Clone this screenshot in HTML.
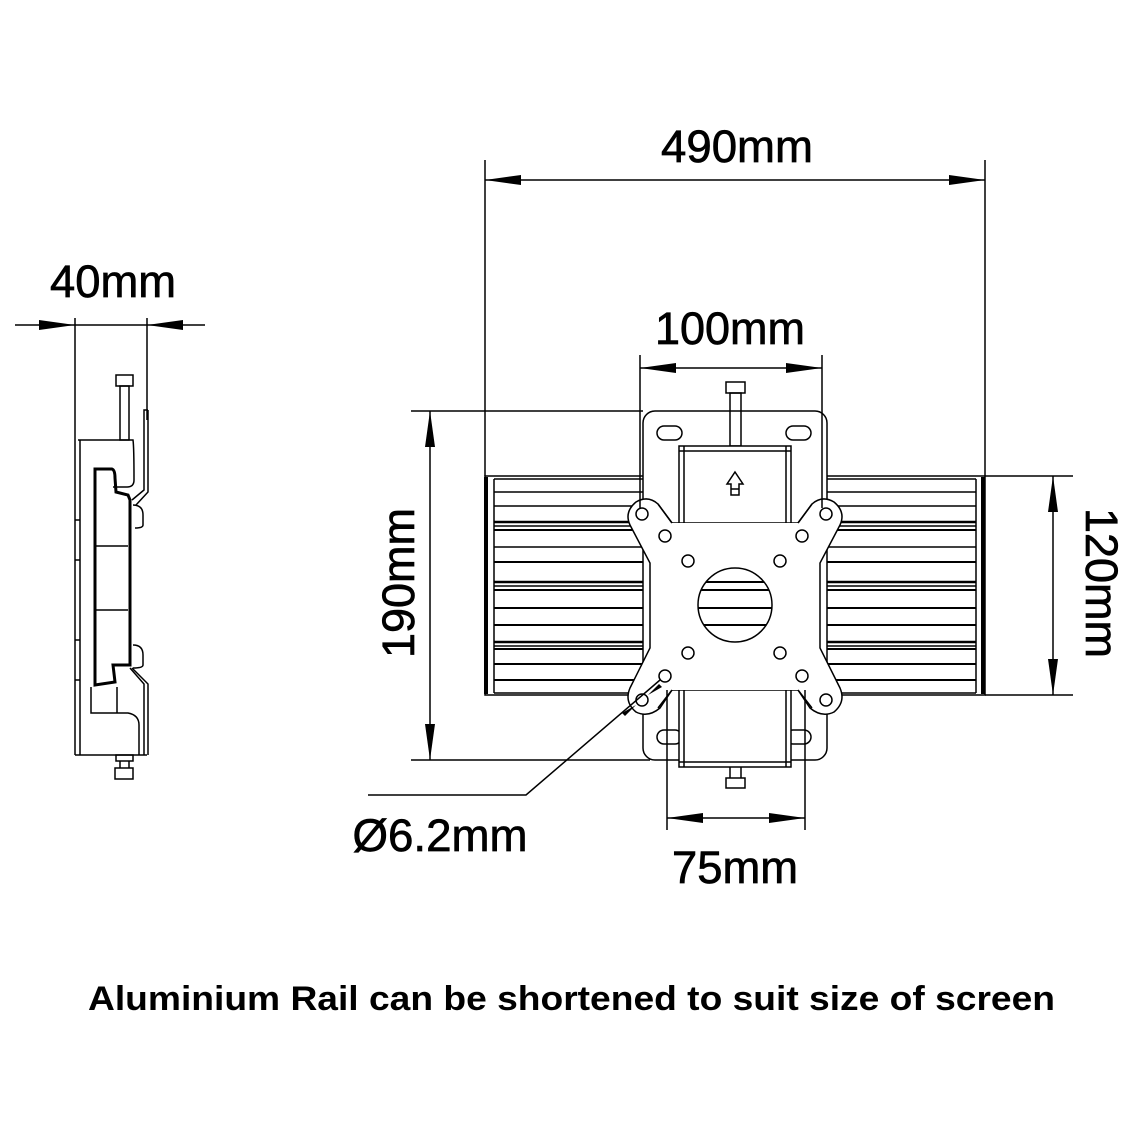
<!DOCTYPE html>
<html><head><meta charset="utf-8"><style>html,body{margin:0;padding:0;background:#fff}svg{display:block}</style></head>
<body>
<svg width="1138" height="1138" viewBox="0 0 1138 1138" xmlns="http://www.w3.org/2000/svg">
<g fill="none" stroke="#000" stroke-width="1.5">
<!-- ===== side view ===== -->
<line x1="75" y1="318" x2="75" y2="755"/>
<line x1="147" y1="318" x2="147" y2="420"/>
<rect x="116" y="375" width="17" height="11"/>
<rect x="120" y="386" width="9" height="54"/>
<path d="M78,440 L133,440 Q134,447 134,480 Q134,487 127,487 L113,487"/>
<path d="M148,410 L144,410 L144,490 L132,500"/>
<path d="M148,410 L148,492 L136,505"/>
<path d="M133,505 Q143,505 143,515 L143,525 Q143,528 135,528"/>
<path d="M95,469 L112,469 Q115,470 115,478 L116,492 L128,495 L130,500 L130,665 L113,665 L115,682 L95,685 Z" stroke-width="3"/>
<line x1="95" y1="546" x2="128" y2="546"/>
<line x1="95" y1="610" x2="128" y2="610"/>
<line x1="80" y1="440" x2="80" y2="755"/>
<line x1="75" y1="755" x2="147" y2="755"/>
<path d="M133,645 Q143,645 143,655 L143,665 Q143,668 133,668"/>
<path d="M132,668 L148,684 L148,755"/>
<path d="M130,668 L144,684 L144,755"/>
<path d="M91,687 L91,713 L128,713 Q139,715 139,725 L139,755"/>
<line x1="117" y1="687" x2="117" y2="713"/>
<rect x="116" y="755" width="17" height="6"/>
<rect x="115" y="768" width="18" height="11"/>
<line x1="120" y1="761" x2="120" y2="768"/><line x1="129" y1="761" x2="129" y2="768"/>
<line x1="75" y1="520" x2="80" y2="520"/><line x1="75" y1="560" x2="80" y2="560"/><line x1="75" y1="640" x2="80" y2="640"/><line x1="75" y1="680" x2="80" y2="680"/>

<!-- 40mm dim -->
<line x1="15" y1="325" x2="205" y2="325"/>

<!-- ===== rail ===== -->
<rect x="485" y="476" width="500" height="219"/>
<line x1="486" y1="477" x2="486" y2="694" stroke-width="4"/>
<line x1="983" y1="477" x2="983" y2="694" stroke-width="4"/>
<line x1="494" y1="479" x2="494" y2="693"/>
<line x1="976" y1="479" x2="976" y2="693"/>
<g>
<line x1="494" y1="479" x2="976" y2="479"/>
<line x1="494" y1="492" x2="976" y2="492"/>
<line x1="494" y1="506" x2="976" y2="506"/>
<line x1="494" y1="522" x2="976" y2="522" stroke-width="2.5"/>
<line x1="494" y1="526" x2="976" y2="526"/>
<line x1="494" y1="530" x2="976" y2="530" stroke-width="2"/>
<line x1="494" y1="547" x2="976" y2="547"/>
<line x1="494" y1="562" x2="976" y2="562" stroke-width="2"/>
<line x1="494" y1="582" x2="976" y2="582" stroke-width="2.5"/>
<line x1="494" y1="586" x2="976" y2="586"/>
<line x1="494" y1="590" x2="976" y2="590" stroke-width="2"/>
<line x1="494" y1="608" x2="976" y2="608" stroke-width="2"/>
<line x1="494" y1="625" x2="976" y2="625" stroke-width="2"/>
<line x1="494" y1="642" x2="976" y2="642" stroke-width="2.5"/>
<line x1="494" y1="646" x2="976" y2="646"/>
<line x1="494" y1="649" x2="976" y2="649" stroke-width="2"/>
<line x1="494" y1="664" x2="976" y2="664" stroke-width="2"/>
<line x1="494" y1="680" x2="976" y2="680" stroke-width="2"/>
<line x1="494" y1="693" x2="976" y2="693"/>
</g>

<!-- ===== bracket back plate ===== -->
<rect x="643" y="411" width="184" height="349" rx="12" fill="#fff"/>
<rect x="657" y="426" width="25" height="14" rx="7"/>
<rect x="786" y="426" width="25" height="14" rx="7"/>
<rect x="657" y="730" width="25" height="14" rx="7"/>
<rect x="786" y="730" width="25" height="14" rx="7"/>
<rect x="726" y="382" width="19" height="11"/>
<rect x="730" y="393" width="11" height="53"/>
<rect x="679" y="446" width="112" height="321" fill="#fff"/>
<line x1="684" y1="446" x2="684" y2="767"/><line x1="786" y1="446" x2="786" y2="767"/>
<line x1="679" y1="451" x2="791" y2="451"/><line x1="679" y1="762" x2="791" y2="762"/>
<rect x="726" y="778" width="19" height="10"/>
<line x1="730" y1="767" x2="730" y2="778"/><line x1="741" y1="767" x2="741" y2="778"/>
<path d="M735,472 L743,484 L739,484 L739,495 L731,495 L731,484 L727,484 Z"/>
<line x1="731" y1="489" x2="739" y2="489"/>

<!-- ===== VESA plate ===== -->
<path d="M672,523 L658,504 Q648,495 636,502 Q624,512 630,525 L650,563 L650,648 L630,688 Q624,702 636,712 Q648,718 660,708 L672,690 L798,690 L810,708 Q822,718 834,712 Q846,702 840,688 L820,648 L820,563 L840,525 Q846,512 834,502 Q822,495 812,504 L798,523 Z" fill="#fff"/>
<rect x="679" y="523" width="112" height="167" fill="#fff" stroke="none"/>
<rect x="656" y="523" width="158" height="167" fill="#fff" stroke="none"/>
<path d="M658,504 L672,523 M798,523 L812,504 M672,690 L658,708 M798,690 L812,708"/>
<circle cx="642" cy="514" r="6"/><circle cx="826" cy="514" r="6"/>
<circle cx="642" cy="700" r="6"/><circle cx="826" cy="700" r="6"/>
<circle cx="665" cy="536" r="6"/><circle cx="802" cy="536" r="6"/>
<circle cx="688" cy="561" r="6"/><circle cx="780" cy="561" r="6"/>
<circle cx="688" cy="653" r="6"/><circle cx="780" cy="653" r="6"/>
<circle cx="665" cy="676" r="6"/><circle cx="802" cy="676" r="6"/>
<circle cx="735" cy="605" r="37"/>
<clipPath id="c"><circle cx="735" cy="605" r="37"/></clipPath>
<g clip-path="url(#c)" stroke-width="2">
<line x1="690" y1="582" x2="780" y2="582"/><line x1="690" y1="590" x2="780" y2="590"/>
<line x1="690" y1="608" x2="780" y2="608"/><line x1="690" y1="625" x2="780" y2="625"/>
</g>

<!-- ===== dimensions ===== -->
<line x1="485" y1="160" x2="485" y2="476"/>
<line x1="985" y1="160" x2="985" y2="476"/>
<line x1="485" y1="180" x2="985" y2="180"/>
<line x1="640" y1="355" x2="640" y2="508"/>
<line x1="822" y1="355" x2="822" y2="508"/>
<line x1="640" y1="368" x2="822" y2="368"/>
<line x1="411" y1="411" x2="643" y2="411"/>
<line x1="411" y1="760" x2="650" y2="760"/>
<line x1="430" y1="411" x2="430" y2="760"/>
<line x1="985" y1="476" x2="1073" y2="476"/>
<line x1="985" y1="695" x2="1073" y2="695"/>
<line x1="1053" y1="476" x2="1053" y2="695"/>
<line x1="667" y1="690" x2="667" y2="830"/>
<line x1="805" y1="690" x2="805" y2="830"/>
<line x1="667" y1="818" x2="805" y2="818"/>
<polyline points="368,795 526,795 660,680"/>
</g>
<g stroke="none" fill="#000">
<path d="M485,180 l36,-5 v10 z"/><path d="M985,180 l-36,-5 v10 z"/>
<path d="M640,368 l36,-5 v10 z"/><path d="M822,368 l-36,-5 v10 z"/>
<path d="M430,411 l-5,36 h10 z"/><path d="M430,760 l-5,-36 h10 z"/>
<path d="M1053,476 l-5,36 h10 z"/><path d="M1053,695 l-5,-36 h10 z"/>
<path d="M667,818 l36,-5 v10 z"/><path d="M805,818 l-36,-5 v10 z"/>
<path d="M75,325 l-36,-5 v10 z"/><path d="M147,325 l36,-5 v10 z"/>
<path d="M636,705 l-14,8 l3,3 z"/><path d="M648,695 l14,-8 l-3,-3 z"/>
</g>
<g font-family="Liberation Sans, Arial, sans-serif" fill="#000" stroke="#000" stroke-width="0.7" font-size="45">
<text x="737" y="162" text-anchor="middle" textLength="152" lengthAdjust="spacingAndGlyphs">490mm</text>
<text x="730" y="344" text-anchor="middle" textLength="150" lengthAdjust="spacingAndGlyphs">100mm</text>
<text x="113" y="297" text-anchor="middle" textLength="126" lengthAdjust="spacingAndGlyphs">40mm</text>
<text x="735" y="883" text-anchor="middle" textLength="126" lengthAdjust="spacingAndGlyphs">75mm</text>
<text x="440" y="851" text-anchor="middle" textLength="175" lengthAdjust="spacingAndGlyphs">Ø6.2mm</text>
<text transform="translate(414,583) rotate(-90)" text-anchor="middle" textLength="150" lengthAdjust="spacingAndGlyphs">190mm</text>
<text transform="translate(1086,583) rotate(90)" text-anchor="middle" textLength="150" lengthAdjust="spacingAndGlyphs">120mm</text>
<text x="88" y="1010" font-size="34" font-weight="bold" stroke="none" textLength="967" lengthAdjust="spacingAndGlyphs">Aluminium Rail can be shortened to suit size of screen</text>
</g>
</svg>
</body></html>
